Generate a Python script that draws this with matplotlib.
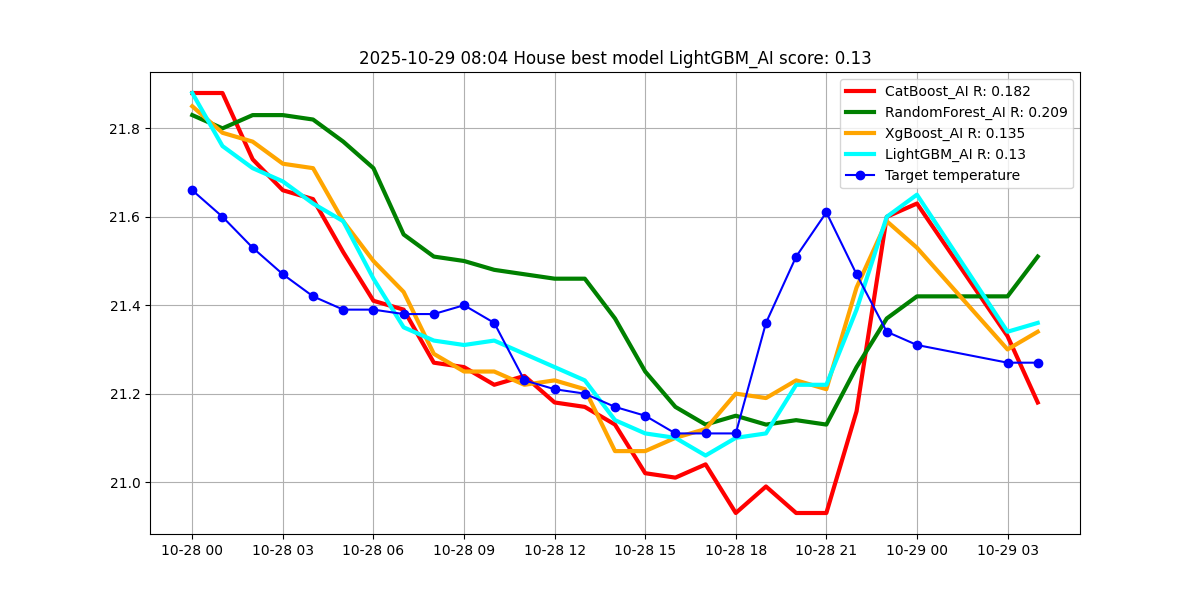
import pandas as pd
import matplotlib
matplotlib.use("Agg")
import matplotlib.pyplot as plt
import matplotlib.dates as mdates

# hourly timestamps (hours 25 and 26 missing)
hours = list(range(0, 25)) + [27, 28]
times = pd.Timestamp("2025-10-28 00:00") + pd.to_timedelta(hours, unit="h")

catboost = [21.88, 21.88, 21.73, 21.66, 21.64, 21.52, 21.41, 21.39, 21.27, 21.26,
            21.22, 21.24, 21.18, 21.17, 21.13, 21.02, 21.01, 21.04, 20.93, 20.99,
            20.93, 20.93, 21.16, 21.60, 21.63, 21.33, 21.18]
random_forest = [21.83, 21.80, 21.83, 21.83, 21.82, 21.77, 21.71, 21.56, 21.51, 21.50,
                 21.48, 21.47, 21.46, 21.46, 21.37, 21.25, 21.17, 21.13, 21.15, 21.13,
                 21.14, 21.13, 21.26, 21.37, 21.42, 21.42, 21.51]
xgboost = [21.85, 21.79, 21.77, 21.72, 21.71, 21.59, 21.50, 21.43, 21.29, 21.25,
           21.25, 21.22, 21.23, 21.21, 21.07, 21.07, 21.10, 21.12, 21.20, 21.19,
           21.23, 21.21, 21.44, 21.59, 21.53, 21.30, 21.34]
lightgbm = [21.88, 21.76, 21.71, 21.68, 21.63, 21.59, 21.46, 21.35, 21.32, 21.31,
            21.32, 21.29, 21.26, 21.23, 21.14, 21.11, 21.10, 21.06, 21.10, 21.11,
            21.22, 21.22, 21.39, 21.60, 21.65, 21.34, 21.36]
target = [21.66, 21.60, 21.53, 21.47, 21.42, 21.39, 21.39, 21.38, 21.38, 21.40,
          21.36, 21.23, 21.21, 21.20, 21.17, 21.15, 21.11, 21.11, 21.11, 21.36,
          21.51, 21.61, 21.47, 21.34, 21.31, 21.27, 21.27]

fig, ax = plt.subplots(figsize=(12, 6), dpi=100)

ax.plot(times, catboost, color="red", linewidth=3, label="CatBoost_AI R: 0.182")
ax.plot(times, random_forest, color="green", linewidth=3, label="RandomForest_AI R: 0.209")
ax.plot(times, xgboost, color="orange", linewidth=3, label="XgBoost_AI R: 0.135")
ax.plot(times, lightgbm, color="cyan", linewidth=3, label="LightGBM_AI R: 0.13")
ax.plot(times, target, color="blue", marker="o", linewidth=1.5, label="Target temperature")

ax.xaxis.set_major_locator(mdates.HourLocator(byhour=range(0, 24, 3)))
ax.xaxis.set_major_formatter(mdates.DateFormatter("%m-%d %H"))
ax.set_title("2025-10-29 08:04 House best model LightGBM_AI score: 0.13")
ax.grid(True)
ax.legend(loc="upper right")

fig.savefig("out.png", dpi=100)
